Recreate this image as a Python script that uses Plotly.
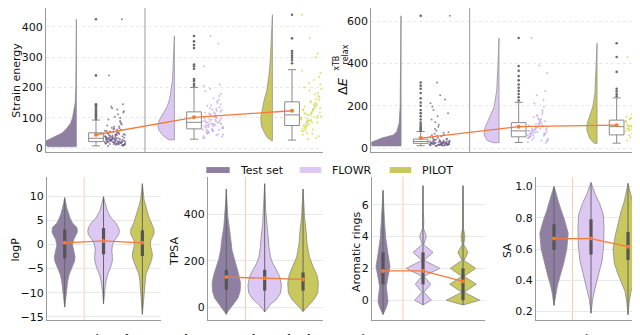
import plotly.graph_objects as go

# ---------------- categories / colours ----------------
CATS = ["Test set", "FLOWR", "PILOT"]
POS = [0, 1, 2]
FILL = ["#8f7fa3", "#dcc8f3", "#c9c85c"]
DOT = ["#6f5f88", "#bfa3ee", "#d2d33e"]
ORANGE = "#f47a38"
GRAY = "#8a8a8a"

# ---------------- top row: strain energy ----------------
se_q1 = [22, 64, 75]
se_med = [33, 85.5, 110]
se_q3 = [51, 120, 153]
se_lo = [8, 30, 27]
se_hi = [93, 200, 259]
se_mean = [44.6, 102, 123.6]
se_outliers = [
    [97, 101, 105, 108, 112, 116, 120, 124, 128, 133, 138, 142, 145, 240, 425],
    [205, 212, 222, 228, 262, 270, 276, 330, 340, 352, 370],
    [280, 290, 298, 305, 312, 320, 362, 440],
]
se_kde_levels = [
    [5, 10, 23, 35, 50, 65, 82, 100, 130, 150, 200, 250, 300, 425],
    [28, 40, 60, 78, 95, 115, 137, 160, 190, 220, 250, 300, 370],
    [25, 35, 50, 72, 100, 137, 158, 190, 244, 298, 352, 400, 440],
]
se_kde_width = [
    [0.29, 0.31, 0.32, 0.24, 0.146, 0.10, 0.061, 0.04, 0.023, 0.012, 0.006, 0.005, 0.003, 0.002],
    [0.06, 0.11, 0.16, 0.17, 0.15, 0.11, 0.075, 0.05, 0.034, 0.022, 0.016, 0.01, 0.002],
    [0.01, 0.05, 0.08, 0.112, 0.12, 0.10, 0.085, 0.058, 0.034, 0.02, 0.013, 0.006, 0.001],
]
se_points = [
    [22, 14, 41, 9, 30, 57, 18, 26, 35, 12, 48, 20, 63, 16, 33, 27, 11, 44, 24, 90, 38, 15, 52, 29,
     19, 71, 36, 13, 25, 46, 31, 8, 60, 21, 40, 17, 55, 28, 104, 34, 23, 68, 12, 43, 32, 78, 19, 37,
     50, 26, 118, 15, 30, 86, 42, 22, 128, 35, 10, 65, 28, 47, 138, 24, 33, 95, 18, 54, 39, 112,
     27, 145, 21, 75, 31, 132, 45, 16, 240, 425, 13, 29, 20, 37, 11, 25, 49, 17, 33, 58, 23, 14,
     40, 27, 19, 66, 31, 12, 45, 22, 82, 35, 16, 53, 26, 9, 38, 21, 100, 30, 15, 61, 42, 24, 18,
     34, 72, 28, 122, 47],
    [62, 95, 48, 120, 78, 35, 150, 88, 66, 105, 54, 172, 82, 40, 130, 71, 98, 58, 188, 86, 112, 45,
     76, 140, 92, 63, 205, 100, 52, 125, 80, 68, 160, 110, 33, 90, 74, 145, 57, 118, 84, 196, 70,
     102, 60, 135, 94, 270, 43, 115, 79, 165, 87, 345, 370, 66, 108, 50, 83, 128, 72, 155, 96, 38,
     118, 77, 60, 142, 89, 105, 55, 180, 73, 93, 46, 133, 68, 115, 85, 210, 62, 100, 124, 79],
    [95, 130, 60, 172, 110, 45, 150, 82, 210, 122, 70, 100, 190, 58, 140, 88, 235, 115, 75, 162,
     30, 105, 128, 66, 182, 92, 255, 135, 50, 118, 86, 200, 145, 78, 98, 225, 112, 40, 155, 125,
     300, 90, 248, 62, 138, 312, 362, 440, 104, 72, 168, 118, 56, 140, 88, 196, 126, 80, 108, 152,
     65, 178, 97, 132, 48, 116, 84, 215, 102, 145, 74, 160, 92, 128, 35, 110],
]

# ---------------- top row: relaxation energy (xTB) ----------------
de_q1 = [22, 53, 62]
de_med = [31, 81, 101]
de_q3 = [42, 120, 132]
de_lo = [11, 26, 23]
de_hi = [78, 216, 237]
de_mean = [47, 101, 108]
de_outliers = [
    [82, 88, 95, 102, 110, 120, 135, 150, 165, 180, 200, 215, 235, 260, 280, 295, 310, 625],
    [225, 240, 255, 270, 285, 300, 320, 340, 365, 388, 520],
    [245, 255, 268, 280, 360, 430, 495],
]
de_kde_levels = [
    [10, 26, 47, 62, 78, 117, 195, 300, 450, 625],
    [25, 35, 62, 97, 142, 195, 273, 351, 450, 520],
    [22, 47, 86, 117, 148, 195, 257, 351, 430, 495],
]
de_kde_width = [
    [0.30, 0.31, 0.197, 0.078, 0.044, 0.02, 0.01, 0.006, 0.004, 0.002],
    [0.06, 0.12, 0.153, 0.143, 0.10, 0.05, 0.024, 0.013, 0.006, 0.001],
    [0.027, 0.078, 0.105, 0.10, 0.078, 0.044, 0.022, 0.011, 0.005, 0.001],
]
de_points = [
    [18, 12, 27, 44, 15, 22, 63, 11, 30, 19, 37, 25, 14, 50, 21, 90, 16, 33, 24, 13, 58, 28, 20,
     41, 17, 110, 23, 35, 10, 75, 26, 47, 19, 150, 31, 22, 68, 15, 39, 135, 26, 82, 18, 54, 180,
     24, 100, 212, 30, 122, 165, 250, 195, 230, 310, 625, 14, 21, 32, 17, 26, 12, 40, 23, 16, 29,
     19, 48, 13, 25, 36, 20, 15, 60, 27, 11, 34, 22, 18, 43, 28, 14, 72, 24, 17, 31, 20],
    [60, 92, 40, 126, 76, 52, 160, 84, 32, 110, 68, 195, 96, 48, 138, 72, 25, 100, 56, 170, 88,
     44, 120, 80, 64, 250, 105, 36, 145, 76, 115, 58, 228, 92, 28, 132, 84, 270, 152, 66, 180,
     210, 355, 390, 520, 70, 98, 46, 118, 62, 86, 140, 54, 102, 74, 38, 125, 90, 66, 156, 80, 108,
     50, 94, 134, 72, 58, 112, 82],
    [80, 116, 50, 150, 95, 35, 128, 70, 182, 105, 60, 90, 228, 122, 45, 142, 85, 26, 110, 75, 170,
     100, 55, 135, 65, 210, 92, 40, 160, 116, 245, 82, 30, 195, 128, 262, 105, 280, 360, 430, 495,
     98, 68, 132, 88, 112, 58, 148, 76, 104, 124, 62, 92, 172, 84, 118, 48, 138, 96, 72, 108, 156,
     86, 120, 66, 100],
]

# ---------------- bottom row: violins ----------------
logp_levels = [
    [-13, -11, -9, -7.6, -6.2, -4.9, -3.5, -2.5, -1.2, -0.1, 1.0, 2.0, 2.6, 3.5, 4.4, 5.4, 6.5, 7.5, 8.5, 9.7],
    [-12.3, -10, -8.5, -7.6, -6.2, -4.9, -3.5, -2.5, -1.2, 0, 1, 2, 2.7, 3.5, 4.4, 5.4, 6.8, 8.2, 9.9],
    [-14.5, -12, -10, -7.6, -6.2, -4.6, -3, -2, -1, -0.1, 0.9, 2.2, 3.2, 4.4, 5.4, 6.5, 7.9, 9.3, 11, 12.6],
]
logp_width = [
    [0, .026, .052, .077, .116, .18, .253, .265, .232, .201, .232, .296, .327, .314, .206, .142, .09, .057, .031, 0],
    [0, .021, .046, .064, .108, .173, .227, .227, .214, .232, .296, .387, .407, .387, .322, .206, .103, .052, 0],
    [0, .026, .046, .064, .09, .173, .245, .258, .232, .206, .219, .302, .296, .224, .18, .137, .09, .044, .021, 0],
]
logp_iqr = [[-2.87, 3.07], [-2.05, 3.4], [-2.4, 2.93]]
logp_mean = [0.33, 0.74, 0.33]

tpsa_levels = [
    [-30, -15, 10, 40, 70, 105, 140, 170, 205, 245, 300, 345, 390, 450, 508],
    [-20, -8, 13, 34, 62, 97, 132, 161, 189, 217, 260, 303, 360, 416, 531],
    [-18, -8, 13, 34, 62, 105, 140, 175, 217, 274, 331, 388, 444, 508],
]
tpsa_width = [
    [0, .052, .169, .305, .36, .37, .326, .274, .2, .149, .11, .065, .039, .018, 0],
    [0, .052, .156, .305, .417, .435, .391, .305, .209, .151, .11, .091, .052, .026, 0],
    [0, .052, .156, .287, .383, .399, .36, .261, .164, .104, .078, .039, .021, 0],
]
tpsa_iqr = [[76, 161], [72, 161], [72, 150]]
tpsa_mean = [130, 125, 120]

arom_levels = [
    [-0.9, -0.5, -0.1, 0.4, 0.85, 1.4, 2.1, 2.9, 3.9, 4.9, 5.9, 6.9],
    [-0.3, 0, 0.5, 1, 1.5, 2, 2.5, 3, 3.5, 4, 4.5, 5, 5.5, 6, 6.5, 7.2],
    [-0.3, 0, 0.5, 1, 1.5, 2, 2.5, 3, 3.5, 4, 4.5, 5, 5.5, 6, 6.5, 7.2],
]
arom_width = [
    [0, .075, .125, .105, .083, .12, .175, .125, .068, .038, .02, 0],
    [0, .208, .025, .193, .025, .418, .025, .25, .02, .083, .013, .02, .008, .01, .005, 0],
    [0, .418, .03, .333, .03, .318, .025, .125, .018, .05, .01, .015, .008, .008, .005, 0],
]
arom_iqr = [[1, 3], [1, 3], [0, 2]]
arom_mean = [1.84, 1.84, 1.18]

sa_levels = [
    [0.24, 0.31, 0.37, 0.43, 0.51, 0.6, 0.7, 0.78, 0.84, 0.9, 0.97, 1.0],
    [0.19, 0.28, 0.34, 0.40, 0.47, 0.53, 0.63, 0.74, 0.82, 0.89, 0.95, 1.0, 1.025],
    [0.18, 0.26, 0.33, 0.39, 0.45, 0.51, 0.6, 0.68, 0.77, 0.84, 0.9, 0.97, 1.02],
]
sa_width = [
    [0, .041, .095, .168, .262, .346, .384, .292, .203, .122, .041, 0],
    [0, .046, .1, .168, .238, .303, .343, .351, .332, .235, .114, .041, 0],
    [0, .032, .081, .181, .289, .37, .405, .351, .262, .189, .108, .041, 0],
]
sa_iqr = [[0.594, 0.758], [0.565, 0.79], [0.53, 0.71]]
sa_mean = [0.667, 0.667, 0.615]

# tick labels
se_ticks = [0, 100, 200, 300, 400]
de_ticks = [0, 200, 400, 600]
logp_ticks = [-15, -10, -5, 0, 5, 10]
tpsa_ticks = [0, 200, 400]
arom_ticks = [0, 2, 4, 6]
sa_ticks = [0.2, 0.4, 0.6, 0.8, 1.0]

fig = go.Figure()


def add(tr):
    fig.add_trace(tr)


def raincloud(xa, ya, levels, widths, q1, med, q3, lo, hi, means, outliers, points):
    for i, p in enumerate(POS):
        edge = p - 0.2
        lv, wd = levels[i], widths[i]
        xs = [edge - w for w in wd] + [edge, edge, edge - wd[0]]
        ys = list(lv) + [lv[-1], lv[0], lv[0]]
        add(go.Scatter(x=xs, y=ys, xaxis=xa, yaxis=ya, mode="lines", fill="toself",
                       fillcolor=FILL[i], line=dict(color=GRAY, width=0.7),
                       hoverinfo="skip", showlegend=False))
    for i, p in enumerate(POS):
        add(go.Box(x=[p], q1=[q1[i]], median=[med[i]], q3=[q3[i]], lowerfence=[lo[i]],
                   upperfence=[hi[i]], width=0.15, whiskerwidth=0.55, fillcolor="white",
                   line=dict(color=GRAY, width=1), boxpoints=False, xaxis=xa, yaxis=ya,
                   showlegend=False, hoverinfo="skip"))
        add(go.Scatter(x=[p] * len(outliers[i]), y=outliers[i], xaxis=xa, yaxis=ya,
                       mode="markers", marker=dict(size=2.6, color="#6a6a6a"),
                       showlegend=False, hoverinfo="skip"))
        pts = points[i]
        jx = [p + 0.09 + 0.21 * ((k * 0.6180339887) % 1.0) for k in range(len(pts))]
        add(go.Scatter(x=jx, y=pts, xaxis=xa, yaxis=ya, mode="markers",
                       marker=dict(size=2.0, color=DOT[i], opacity=0.75),
                       showlegend=False, hoverinfo="skip"))
    add(go.Scatter(x=POS, y=means, xaxis=xa, yaxis=ya, mode="lines+markers",
                   line=dict(color=ORANGE, width=1.3), marker=dict(size=4, color=ORANGE),
                   showlegend=False, hoverinfo="skip"))


def violins(xa, ya, levels, widths, iqr, means):
    for i, p in enumerate(POS):
        lv, wd = levels[i], widths[i]
        xs = [p + w for w in wd] + [p - w for w in reversed(wd)] + [p + wd[0]]
        ys = list(lv) + list(reversed(lv)) + [lv[0]]
        add(go.Scatter(x=xs, y=ys, xaxis=xa, yaxis=ya, mode="lines", fill="toself",
                       fillcolor=FILL[i], line=dict(color=GRAY, width=0.8),
                       hoverinfo="skip", showlegend=False))
        add(go.Scatter(x=[p, p], y=[lv[0], lv[-1]], xaxis=xa, yaxis=ya, mode="lines",
                       line=dict(color="#666666", width=1), hoverinfo="skip", showlegend=False))
        add(go.Scatter(x=[p, p], y=iqr[i], xaxis=xa, yaxis=ya, mode="lines",
                       line=dict(color="#555555", width=3.2), hoverinfo="skip", showlegend=False))
    add(go.Scatter(x=POS, y=means, xaxis=xa, yaxis=ya, mode="lines+markers",
                   line=dict(color=ORANGE, width=1.3), marker=dict(size=4, color=ORANGE),
                   showlegend=False, hoverinfo="skip"))


raincloud("x", "y", se_kde_levels, se_kde_width, se_q1, se_med, se_q3, se_lo, se_hi,
          se_mean, se_outliers, se_points)
raincloud("x2", "y2", de_kde_levels, de_kde_width, de_q1, de_med, de_q3, de_lo, de_hi,
          de_mean, de_outliers, de_points)
violins("x3", "y3", logp_levels, logp_width, logp_iqr, logp_mean)
violins("x4", "y4", tpsa_levels, tpsa_width, tpsa_iqr, tpsa_mean)
violins("x5", "y5", arom_levels, arom_width, arom_iqr, arom_mean)
violins("x6", "y6", sa_levels, sa_width, sa_iqr, sa_mean)

W, H = 640, 335
FONT = dict(family="DejaVu Sans", size=11, color="#111111")


def px(v):
    return v / W


def py(v):
    return 1 - v / H


def xax(d0, d1, r, anchor):
    return dict(domain=[px(d0), px(d1)], range=r, anchor=anchor, showgrid=False, zeroline=False,
                showline=True, linecolor="#9a9a9a", linewidth=1, showticklabels=False, ticks="",
                fixedrange=True)


def yax(d0, d1, r, anchor, tv, grid_dash="solid", fmt=None):
    d = dict(domain=[py(d1), py(d0)], range=r, anchor=anchor, tickvals=tv, showgrid=True,
             gridcolor="#e8e8e8", gridwidth=1, griddash=grid_dash, zeroline=False,
             showline=True, linecolor="#9a9a9a", linewidth=1, ticks="", tickfont=FONT,
             ticklabelstandoff=0, fixedrange=True)
    if fmt:
        d["tickformat"] = fmt
    return d


BT, BB = 171, 315.7
fig.update_layout(
    width=W, height=H, margin=dict(l=0, r=0, t=0, b=0),
    paper_bgcolor="white", plot_bgcolor="white", showlegend=False,
    xaxis=xax(38, 315, [-0.51, 2.316], "y"),
    yaxis=yax(0, 146, [-13, 462], "x", se_ticks, "dot"),
    xaxis2=xax(363.3, 640, [-0.504, 2.32], "y2"),
    yaxis2=yax(0, 146, [-20, 662], "x2", de_ticks, "dot"),
    xaxis3=xax(39, 153, [-0.456, 2.48], "y3"),
    yaxis3=yax(BT, BB, [-15.66, 14.0], "x3", logp_ticks),
    xaxis4=xax(200, 315, [-0.477, 2.52], "y4"),
    yaxis4=yax(BT, BB, [-54, 560], "x4", tpsa_ticks),
    xaxis5=xax(364, 477, [-0.275, 2.55], "y5"),
    yaxis5=yax(BT, BB, [-1.24, 7.74], "x5", arom_ticks),
    xaxis6=xax(528, 640, [-0.486, 2.54], "y6"),
    yaxis6=yax(BT, BB, [0.147, 1.061], "x6", sa_ticks, fmt=".1f"),
)

shapes = []
for xa, ya in [("x", "y"), ("x2", "y2")]:
    shapes.append(dict(type="line", xref=xa, yref=ya + " domain", x0=0.5, x1=0.5, y0=0, y1=1,
                       line=dict(color="#9a9a9a", width=1)))
for xa, ya in [("x3", "y3"), ("x4", "y4"), ("x5", "y5"), ("x6", "y6")]:
    shapes.append(dict(type="line", xref=xa, yref=ya + " domain", x0=0.5, x1=0.5, y0=0, y1=1,
                       line=dict(color="#fbc9ae", width=1), layer="below"))

annotations = []
# legend (manual, matplotlib style)
legend_sw = [(198.3, 221.7, 230), (291.7, 313.3, 321.7), (381.7, 403.3, 411.7)]
for i, (a, b, t) in enumerate(legend_sw):
    shapes.append(dict(type="rect", xref="paper", yref="paper", x0=px(a), x1=px(b),
                       y0=py(167), y1=py(161), fillcolor=FILL[i], line=dict(width=0)))
    annotations.append(dict(x=px(t), y=py(164), xref="paper", yref="paper", text=CATS[i],
                            showarrow=False, xanchor="left", yanchor="middle",
                            font=dict(family="DejaVu Sans", size=11, color="#111111")))


def ytitle(x, y, text, size=11):
    annotations.append(dict(x=px(x), y=py(y), xref="paper", yref="paper", text=text,
                            textangle=-90, showarrow=False, xanchor="center", yanchor="middle",
                            font=dict(family="DejaVu Sans", size=size, color="#111111")))


ytitle(8.5, 73, "Strain energy")
ytitle(334, 79, "Δ<i>E</i>", 13)
ytitle(328.5, 56, "xTB", 8)
ytitle(337, 47, "relax", 8)
ytitle(7.5, 245, "logP")
ytitle(166, 246, "TPSA")
ytitle(348, 247, "Aromatic rings")
ytitle(499, 246, "SA")

annotations.append(dict(
    x=0, y=py(327), xref="paper", yref="paper", xanchor="left", yanchor="top", showarrow=False,
    text="Figure 3: <b>Comparison of PILOT and FLOWR on key molecular properties.</b> "
         "STRAIN ENERGY: We compare PILOT and FLOWR",
    font=dict(family="Liberation Serif", size=11.5, color="#111111")))

fig.update_layout(shapes=shapes, annotations=annotations)
fig.write_html("out.html")
